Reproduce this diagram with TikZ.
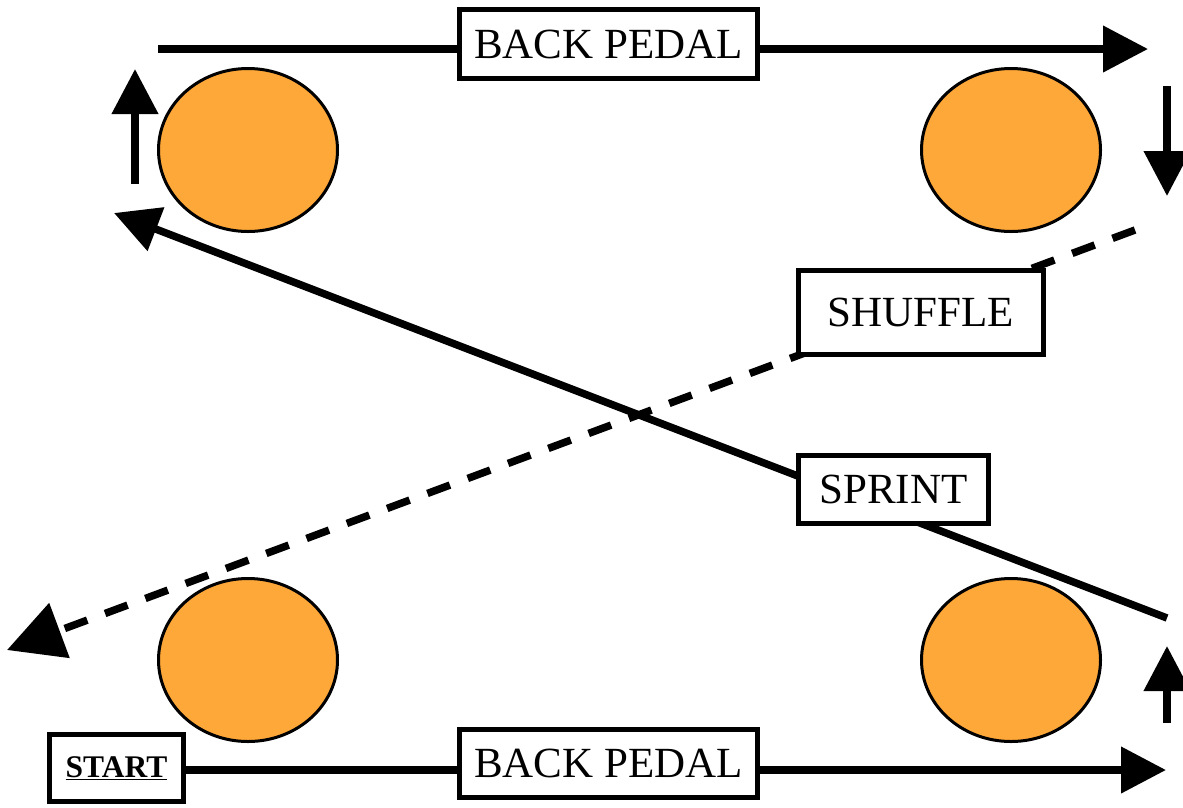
\documentclass[tikz,border=0pt]{standalone}
\usepackage{fontspec}
\setmainfont{Liberation Serif}
\usetikzlibrary{arrows.meta,backgrounds}
\definecolor{cone}{RGB}{255,168,58}
\tikzset{
  labelbox/.style={draw=black,line width=5pt,fill=white,inner sep=0pt,
    font=\fontsize{43}{50}\selectfont},
  conebox/.style={draw=black,line width=3pt,fill=cone,ellipse,
    minimum width=179pt,minimum height=163pt,inner sep=0pt},
  runline/.style={line width=7.5pt},
  bighead/.style={-{Triangle[length=45pt,width=45pt]}},
  dashhead/.style={-{Triangle[length=56pt,width=57pt]}},
  shufflestyle/.style={line width=7.5pt,dash pattern=on 24pt off 19pt}
}
\usetikzlibrary{shapes.geometric}
\begin{document}
\begin{tikzpicture}[x=1pt,y=-1pt]
\useasboundingbox (0,0) rectangle (1183,807);
% cones
\node[conebox] (c1) at (248,150) {};
\node[conebox] (c2) at (1011,150) {};
\node[conebox] (c3) at (248,660) {};
\node[conebox] (c4) at (1011,660) {};
% label boxes
\node[labelbox,minimum width=298pt,minimum height=69pt] (bp1) at (608.5,44) {BACK PEDAL};
\node[labelbox,minimum width=298pt,minimum height=68pt] (bp2) at (608.5,763.5) {BACK PEDAL};
\node[labelbox,minimum width=134pt,minimum height=67pt,font=\fontsize{31.5}{36}\selectfont\bfseries] (start) at (116.5,768) {\underline{START}};
\node[labelbox,minimum width=190pt,minimum height=68pt] (sprint) at (893.5,489.5) {SPRINT};
\node[labelbox,minimum width=245pt,minimum height=84pt] (shuffle) at (921,312.5) {SHUFFLE};
% coordinates
\coordinate (tS) at (158,49);
\coordinate (tE) at (1148,49);
\coordinate (bE) at (1166,770);
\coordinate (spS) at (1167,618);
\coordinate (spE) at (114,213);
\coordinate (shS) at (1135,230);
\coordinate (shE) at (7,650);
\coordinate (u1S) at (135,184);
\coordinate (u1E) at (135,69);
\coordinate (d2S) at (1167,86);
\coordinate (d2E) at (1167,196);
\coordinate (u3S) at (1167,723);
\coordinate (u3E) at (1167,646);
\begin{scope}[on background layer]
\draw[runline] (tS) -- (bp1.west |- tS);
\draw[runline,bighead] (bp1.east |- tS) -- (tE);
\draw[runline] (start.east |- bE) -- (bp2.west |- bE);
\draw[runline,bighead] (bp2.east |- bE) -- (bE);
\draw[runline,bighead] (spS) -- (spE);
\draw[shufflestyle,dashhead] (shS) -- (shE);
\draw[runline,bighead] (u1S) -- (u1E);
\draw[runline,bighead] (d2S) -- (d2E);
\draw[runline,bighead] (u3S) -- (u3E);
\end{scope}
\end{tikzpicture}
\end{document}
